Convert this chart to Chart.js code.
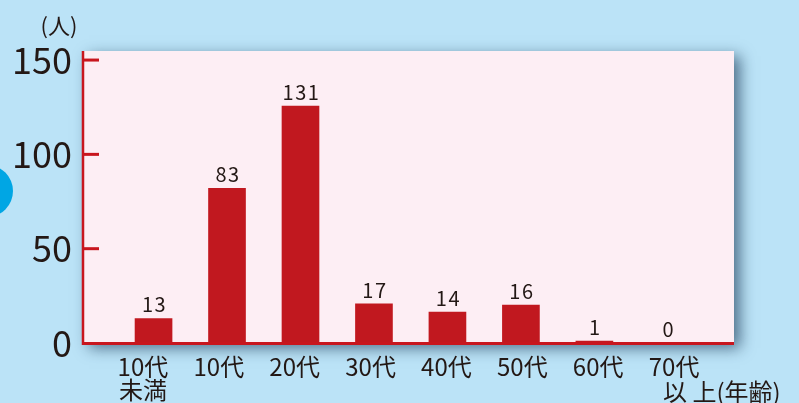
<!DOCTYPE html>
<html><head><meta charset="utf-8">
<script src="https://cdn.jsdelivr.net/npm/chart.js@4/dist/chart.umd.min.js"></script>
<style>html,body{margin:0;padding:0;background:#bbe3f7;}#wrap{width:799px;height:403px;}</style>
</head><body><div id="wrap"><canvas id="c" width="799" height="403"></canvas></div>
<script>
// ---- data ----
const categories = [["10代","未満"], ["10代"], ["20代"], ["30代"], ["40代"], ["50代"], ["60代"], ["70代"]];
const lastLabelTail = "以 上(年齢)";
const valueLabels = ["13", "83", "131", "17", "14", "16", "1", "0"];
const barHeights = [13, 82, 125.6, 20.7, 16.4, 20.1, 1, 0];
const yTicks = [0, 50, 100, 150];
const yUnit = "(人)";

const FONT = '"Noto Sans CJK JP", "Noto Sans", sans-serif';
const INK = '#231815';
const RED = '#c8161e';

const decor = {
  id: 'decor',
  beforeDraw(chart) {
    const ctx = chart.ctx, a = chart.chartArea;
    ctx.save();
    ctx.fillStyle = '#bbe3f7';
    ctx.fillRect(0, 0, chart.width, chart.height);
    ctx.fillStyle = '#00a6e4';
    ctx.beginPath(); ctx.arc(-13, 191, 26, 0, Math.PI * 2); ctx.fill();
    ctx.shadowColor = 'rgba(20,50,80,0.65)';
    ctx.shadowBlur = 14; ctx.shadowOffsetX = 6; ctx.shadowOffsetY = 5;
    ctx.fillStyle = '#fdeef4';
    ctx.fillRect(a.left, a.top, a.right - a.left, a.bottom - a.top);
    ctx.restore();
  },
  afterDatasetsDraw(chart) {
    const ctx = chart.ctx, a = chart.chartArea;
    const ys = chart.scales.y, xl = chart.scales.xl;
    ctx.save();
    ctx.strokeStyle = RED;
    ctx.lineWidth = 2.5;
    ctx.beginPath(); ctx.moveTo(a.left, a.top); ctx.lineTo(a.left, a.bottom + 2); ctx.stroke();
    ctx.lineWidth = 3;
    ctx.beginPath(); ctx.moveTo(a.left, a.bottom + 0.5); ctx.lineTo(a.right, a.bottom + 0.5); ctx.stroke();
    yTicks.forEach(v => {
      if (v === 0) return;
      const py = ys.getPixelForValue(v);
      ctx.beginPath(); ctx.moveTo(a.left, py); ctx.lineTo(a.left + 16, py); ctx.stroke();
    });
    ctx.fillStyle = INK;
    ctx.font = '20px ' + FONT;
    ctx.letterSpacing = '1.5px';
    ctx.textAlign = 'center';
    ctx.textBaseline = 'alphabetic';
    const meta = chart.getDatasetMeta(0);
    meta.data.forEach((bar, i) => {
      ctx.fillText(valueLabels[i], bar.x + 1, bar.y - 6);
    });
    ctx.letterSpacing = '0px';
    ctx.font = '22px ' + FONT;
    ctx.textBaseline = 'middle';
    ctx.fillText(yUnit, 59, 26);
    ctx.font = '24px ' + FONT;
    ctx.textAlign = 'left';
    ctx.fillText(lastLabelTail, xl.getPixelForValue(categories.length - 1) - 11, 392);
    ctx.restore();
  }
};

new Chart(document.getElementById('c'), {
  type: 'bar',
  data: {
    datasets: [{
      data: barHeights.map((v, i) => ({ x: i, y: v })),
      backgroundColor: '#c1181f',
      barThickness: 37,
      xAxisID: 'x',
      yAxisID: 'y'
    }]
  },
  options: {
    responsive: false,
    animation: false,
    layout: { padding: { left: 0, top: 51, right: 65, bottom: 0 } },
    plugins: { legend: { display: false }, tooltip: { enabled: false } },
    scales: {
      x: { type: 'linear', display: false, offset: false, grid: { offset: false }, min: -0.96, max: 7.9 },
      xl: {
        type: 'linear', position: 'bottom', min: -0.79, max: 7.79, offset: false,
        grid: { display: false, drawTicks: false, offset: false }, border: { display: false },
        afterBuildTicks(s) { s.ticks = categories.map((c, i) => ({ value: i })); },
        afterFit(s) { s.height = 60; },
        ticks: {
          autoSkip: false, maxRotation: 0, padding: 12, color: INK,
          font: { family: FONT, size: 24, lineHeight: 0.98 },
          callback: (v) => categories[v]
        }
      },
      y: {
        type: 'linear', min: 0, max: 154.8,
        grid: { display: false, drawTicks: false }, border: { display: false },
        afterBuildTicks(s) { s.ticks = yTicks.map(v => ({ value: v })); },
        afterFit(s) { s.width = 83; },
        ticks: { padding: 11, color: INK, font: { family: FONT, size: 36 } }
      }
    }
  },
  plugins: [decor]
});
</script></body></html>
